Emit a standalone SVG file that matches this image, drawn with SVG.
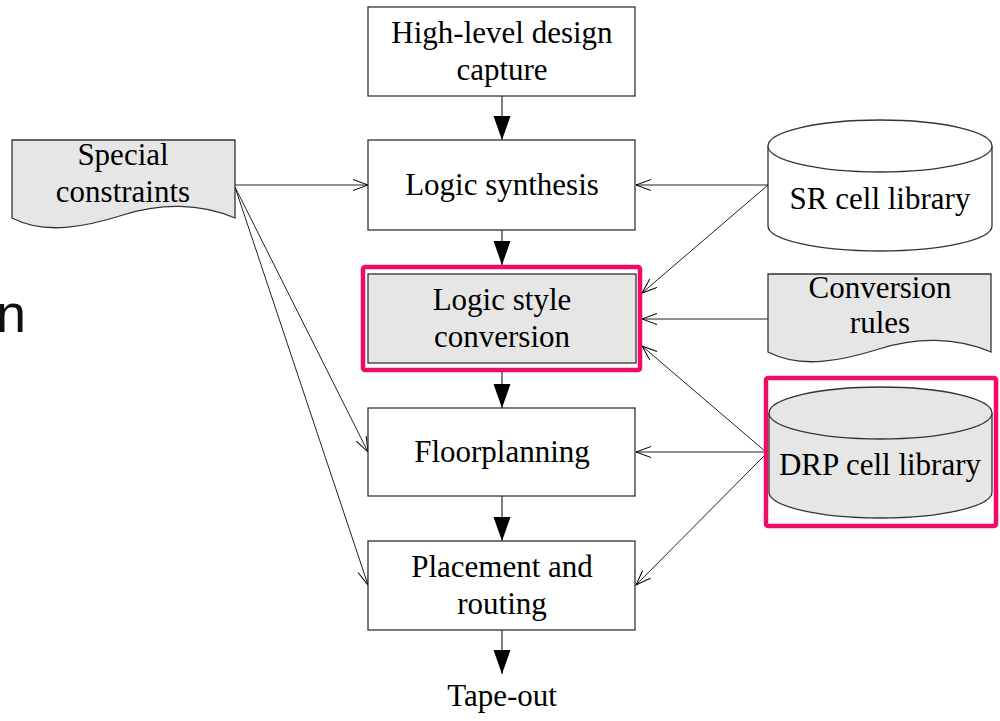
<svg xmlns="http://www.w3.org/2000/svg" width="1000" height="721" viewBox="0 0 1000 721">
<defs>
<marker id="fa" markerUnits="userSpaceOnUse" markerWidth="26" markerHeight="18" refX="24" refY="8.5" orient="auto">
<path d="M0,0 L24,8.5 L0,17 Z" fill="#000"/>
</marker>
<marker id="oa" markerUnits="userSpaceOnUse" markerWidth="18" markerHeight="14" refX="16" refY="6" orient="auto">
<path d="M1,0.5 L16,6 L1,11.5" fill="none" stroke="#000" stroke-width="1"/>
</marker>
</defs>
<style>
.box{fill:#fff;stroke:#333;stroke-width:1.3}
.gray{fill:#e6e6e6;stroke:#333;stroke-width:1.3}
.hl{fill:none;stroke:#ee0c68;stroke-width:4.5}
.t{font-family:"Liberation Serif","Times New Roman",serif;font-size:31px;fill:#000;text-anchor:middle}
.main{stroke:#555;stroke-width:1.5;fill:none;marker-end:url(#fa)}
.thin{stroke:#222;stroke-width:1;fill:none;marker-end:url(#oa)}
</style>
<rect width="1000" height="721" fill="#fff"/>
<text x="26" y="332" font-family="'Liberation Sans',Arial,sans-serif" font-size="54" fill="#111" text-anchor="end">n</text>

<g id="connectors">
<line class="main" x1="502" y1="96" x2="502" y2="140"/>
<line class="main" x1="502" y1="230" x2="502" y2="265"/>
<line class="main" x1="502" y1="371" x2="502" y2="408"/>
<line class="main" x1="502" y1="496" x2="502" y2="541"/>
<line class="main" x1="502" y1="630" x2="502" y2="674"/>
<line class="thin" x1="235" y1="185" x2="368" y2="185"/>
<line class="thin" x1="235" y1="187" x2="368" y2="452"/>
<line class="thin" x1="235" y1="187" x2="368" y2="585"/>
<line class="thin" x1="768" y1="185" x2="636" y2="185"/>
<line class="thin" x1="768" y1="185" x2="642" y2="293"/>
<line class="thin" x1="768" y1="319" x2="642" y2="319"/>
<line class="thin" x1="766" y1="452" x2="642" y2="346"/>
<line class="thin" x1="768" y1="452" x2="636" y2="452"/>
<line class="thin" x1="766" y1="454" x2="636" y2="585"/>
</g>

<g id="n-highlevel">
<rect class="box" x="368" y="7" width="267" height="89"/>
<text class="t" x="502" y="43">High-level design</text>
<text class="t" x="502" y="80">capture</text>
</g>
<g id="n-synthesis">
<rect class="box" x="368" y="140" width="267" height="90"/>
<text class="t" x="502" y="195">Logic synthesis</text>
</g>
<g id="n-conversion">
<rect class="gray" x="368" y="274" width="268" height="89"/>
<rect class="hl" x="363" y="267" width="277" height="103" rx="2"/>
<text class="t" x="502" y="310">Logic style</text>
<text class="t" x="502" y="347">conversion</text>
</g>
<g id="n-floorplanning">
<rect class="box" x="368" y="408" width="267" height="88"/>
<text class="t" x="502" y="462">Floorplanning</text>
</g>
<g id="n-placement">
<rect class="box" x="368" y="541" width="267" height="89"/>
<text class="t" x="502" y="577">Placement and</text>
<text class="t" x="502" y="614">routing</text>
</g>
<g id="n-tapeout">
<text class="t" x="502" y="706">Tape-out</text>
</g>
<g id="n-special">
<path class="gray" d="M12,140 H235 V218 C200,203 160,203 123,215 C85,227 45,235 12,218 Z"/>
<text class="t" x="123" y="165">Special</text>
<text class="t" x="123" y="202">constraints</text>
</g>
<g id="n-sr">
<path class="box" d="M768,146 V226 A112,25 0 0 0 992,226 V146"/>
<ellipse class="box" cx="880" cy="146" rx="112" ry="26"/>
<text class="t" x="880" y="209">SR cell library</text>
</g>
<g id="n-rules">
<path class="gray" d="M768,274 H991 V352 C956,337 916,337 879,349 C841,361 801,369 768,352 Z"/>
<text class="t" x="880" y="298">Conversion</text>
<text class="t" x="880" y="333">rules</text>
</g>
<g id="n-drp">
<path class="gray" d="M769,413 V492 A111.5,26 0 0 0 992,492 V413"/>
<ellipse class="gray" cx="880.5" cy="413" rx="111.5" ry="26"/>
<rect class="hl" x="766" y="378" width="230" height="148" rx="2"/>
<text class="t" x="880" y="475">DRP cell library</text>
</g>
</svg>
